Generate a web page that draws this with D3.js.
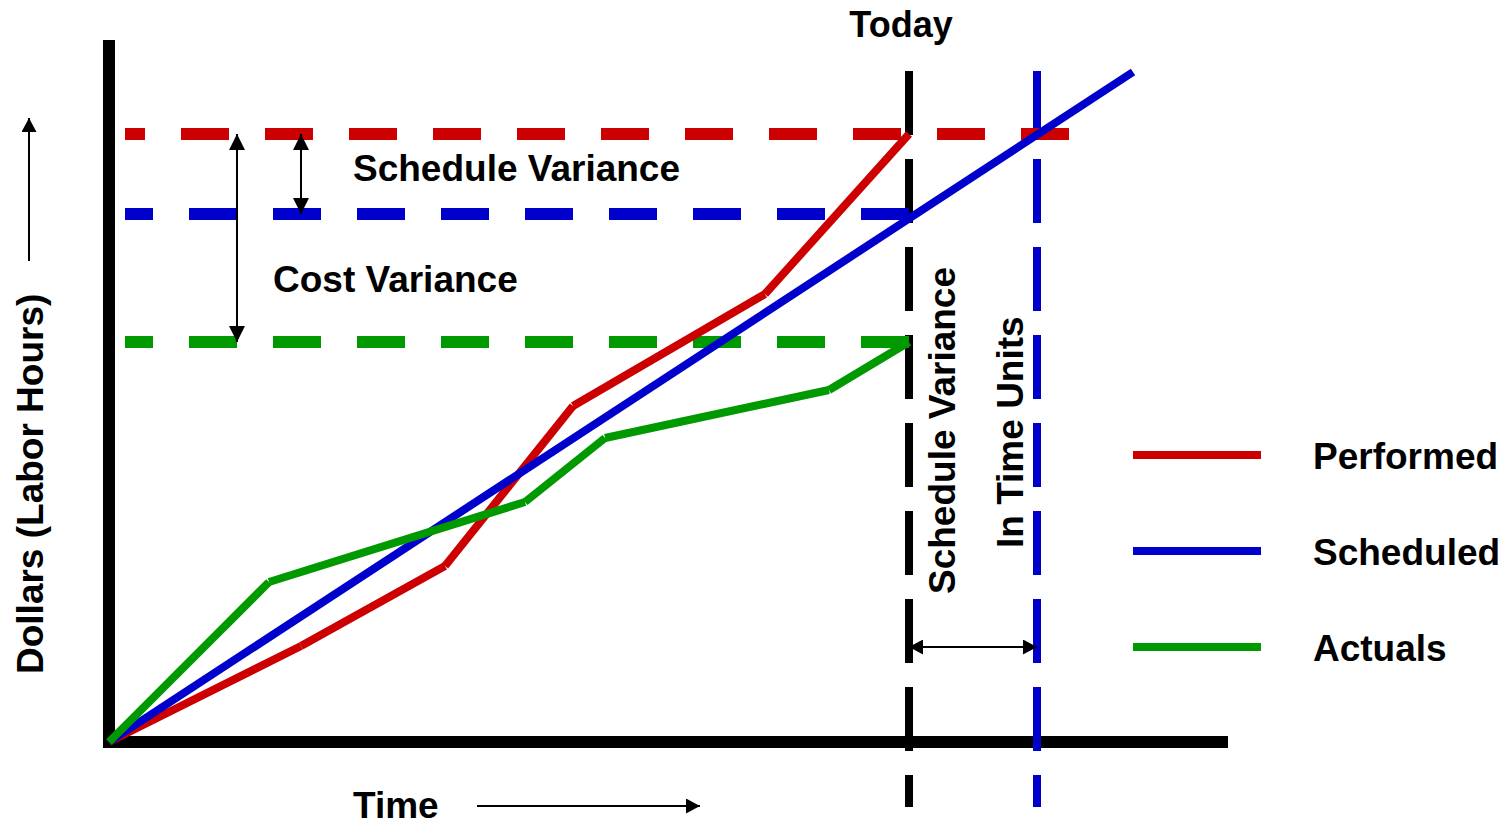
<!DOCTYPE html>
<html>
<head>
<meta charset="utf-8">
<script src="https://cdn.jsdelivr.net/npm/d3@7/dist/d3.min.js"></script>
<style>
  html, body { margin: 0; padding: 0; background: #fff; }
  svg { display: block; }
  text { font-family: "Liberation Sans", Arial, sans-serif; font-weight: bold; fill: #000; }
</style>
</head>
<body>
<svg id="chart" width="1512" height="826"></svg>
<script>
// ---- data ----
const seriesNames = ["Performed", "Scheduled", "Actuals"];
const seriesColors = ["#CC0000", "#0000CC", "#009900"];
const performed = [[0, 0], [24, 24], [42, 44], [58, 84], [82, 112], [100, 152]];
const scheduled = [[0, 0], [128, 167.5]];
const actuals   = [[0, 0], [20, 40], [52, 60], [62, 76], [90, 88], [100, 100]];
const today = 100;           // time of "Today"
const scheduleCatchUp = 116; // time when schedule reaches performed value
const levels = [152, 132, 100]; // performed, scheduled, actual values at Today
const levelEnds = [120, 100, 100];

const svg = d3.select("#chart");
const x = d3.scaleLinear().domain([0, 140]).range([109, 1229]);
const y = d3.scaleLinear().domain([0, 175]).range([742, 42]);

// defs: arrowheads
const defs = svg.append("defs");
function marker(id, w, h) {
  defs.append("marker")
    .attr("id", id).attr("viewBox", `0 0 ${w} ${h}`)
    .attr("refX", w).attr("refY", h / 2)
    .attr("markerWidth", w).attr("markerHeight", h)
    .attr("markerUnits", "userSpaceOnUse")
    .attr("orient", "auto-start-reverse")
    .append("path").attr("d", `M0,0L${w},${h / 2}L0,${h}Z`).attr("fill", "#000");
}
marker("arr", 16, 16);
marker("arrS", 14, 15);

// axes (plain thick lines)
svg.append("line").attr("x1", x(0)).attr("x2", x(0)).attr("y1", 40).attr("y2", 748)
  .attr("stroke", "#000").attr("stroke-width", 12);
svg.append("line").attr("x1", 103).attr("x2", 1228).attr("y1", y(0)).attr("y2", y(0))
  .attr("stroke", "#000").attr("stroke-width", 12);

// vertical dashed lines (Today and schedule catch-up)
[[today, "#000"], [scheduleCatchUp, "#0000CC"]].forEach(([t, c]) => {
  svg.append("line").attr("x1", x(t)).attr("x2", x(t))
    .attr("y1", 71).attr("y2", 807)
    .attr("stroke", c).attr("stroke-width", 8)
    .attr("stroke-dasharray", "64,24");
});

// horizontal dashed level lines
levels.forEach((v, i) => {
  svg.append("line").attr("x1", x(2)).attr("x2", x(levelEnds[i]))
    .attr("y1", y(v)).attr("y2", y(v))
    .attr("stroke", seriesColors[i]).attr("stroke-width", 12)
    .attr("stroke-dasharray", "48,36")
    .attr("stroke-dashoffset", i === 0 ? 28 : 20);
});

// series lines, drawn segment by segment
[performed, scheduled, actuals].forEach((pts, i) => {
  const g = svg.append("g");
  for (let k = 0; k < pts.length - 1; k++) {
    g.append("line")
      .attr("x1", x(pts[k][0])).attr("y1", y(pts[k][1]))
      .attr("x2", x(pts[k + 1][0])).attr("y2", y(pts[k + 1][1]))
      .attr("stroke", seriesColors[i]).attr("stroke-width", 8)
      .attr("stroke-linecap", "butt");
  }
});

// variance arrows
function dbl(x1, y1, x2, y2, m) {
  svg.append("line").attr("x1", x1).attr("y1", y1).attr("x2", x2).attr("y2", y2)
    .attr("stroke", "#000").attr("stroke-width", 2)
    .attr("marker-start", `url(#${m})`).attr("marker-end", `url(#${m})`);
}
dbl(x(16), y(levels[0]), x(16), y(levels[2]), "arr");
dbl(x(24), y(levels[0]), x(24), y(levels[1]), "arr");
dbl(x(today), 647, x(scheduleCatchUp), 647, "arrS");

// axis direction arrows
svg.append("line").attr("x1", 29).attr("x2", 29).attr("y1", 261).attr("y2", 118)
  .attr("stroke", "#000").attr("stroke-width", 2).attr("marker-end", "url(#arrS)");
svg.append("line").attr("x1", 477).attr("x2", 700).attr("y1", 806).attr("y2", 806)
  .attr("stroke", "#000").attr("stroke-width", 2).attr("marker-end", "url(#arrS)");

// texts
const fs = 37;
svg.append("text").attr("x", 901).attr("y", 37).attr("text-anchor", "middle")
  .style("font-size", "36px").text("Today");
svg.append("text").attr("x", 353).attr("y", 181).style("font-size", fs + "px").text("Schedule Variance");
svg.append("text").attr("x", 273).attr("y", 292).style("font-size", fs + "px").text("Cost Variance");
svg.append("text").attr("x", 353).attr("y", 818).style("font-size", fs + "px").text("Time");
svg.append("text").attr("transform", "translate(43,674) rotate(-90)")
  .style("font-size", fs + "px").text("Dollars (Labor Hours)");
svg.append("text").attr("transform", "translate(955,594) rotate(-90)")
  .style("font-size", fs + "px").text("Schedule Variance");
svg.append("text").attr("transform", "translate(1023,548) rotate(-90)")
  .style("font-size", fs + "px").text("In Time Units");

// legend
const legY = [455, 551, 647];
seriesNames.forEach((n, i) => {
  svg.append("line").attr("x1", 1133).attr("x2", 1261).attr("y1", legY[i]).attr("y2", legY[i])
    .attr("stroke", seriesColors[i]).attr("stroke-width", 8);
  svg.append("text").attr("x", 1313).attr("y", legY[i] + 14).style("font-size", fs + "px").text(n);
});
</script>
</body>
</html>
